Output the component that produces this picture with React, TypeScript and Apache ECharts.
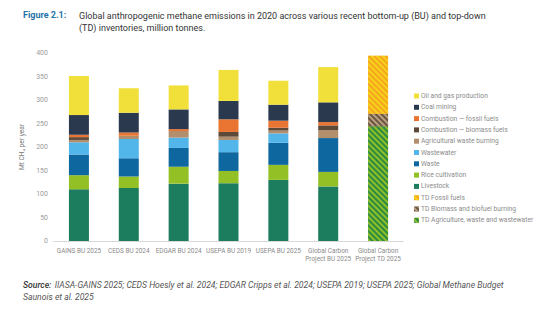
import React, { useEffect, useRef } from "react";
import * as echarts from "echarts";

const categories = [
  "GAINS BU 2025",
  "CEDS BU 2024",
  "EDGAR BU 2024",
  "USEPA BU 2019",
  "USEPA BU 2025",
  "Global Carbon\nProject BU 2025",
  "Global Carbon\nProject TD 2025",
];

const livestock = [110, 113, 122, 123, 130, 116, "-"];
const rice = [30, 24, 36, 26, 32, 31, "-"];
const waste = [44, 39, 40, 40, 47, 72, "-"];
const wastewater = [26, 41, 22, 26, 20, 0, "-"];
const agriWasteBurning = [5, 7, 14, 7, 6, 17, "-"];
const combBiomass = [6, 0, 0, 10, 6, 10, "-"];
const combFossil = [5, 7, 4, 27, 15, 7, "-"];
const coalMining = [42, 42, 42, 39, 34, 42, "-"];
const oilGas = [83, 52, 51, 66, 51, 75, "-"];
const tdAgri = ["-", "-", "-", "-", "-", "-", 244];
const tdBiomass = ["-", "-", "-", "-", "-", "-", 27];
const tdFossil = ["-", "-", "-", "-", "-", "-", 123];

const yTicks = [0, 50, 100, 150, 200, 250, 300, 350, 400];

export default function App() {
  const ref = useRef<HTMLDivElement>(null);
  useEffect(() => {
    document.body.style.margin = "0";
    const chart = echarts.init(ref.current!, null, { renderer: "svg" });
    const font = "Roboto, 'Noto Sans', sans-serif";
    const mk = (name: string, data: any[], color: string, decal?: any) => ({
      name,
      type: "bar",
      stack: "total",
      data,
      barWidth: 20,
      itemStyle: decal ? { color, decal } : { color },
      emphasis: { disabled: true },
    });
    const stripe = (c: string) => ({
      color: c,
      symbol: "rect",
      dashArrayX: [1, 0],
      dashArrayY: [2, 2],
      rotation: Math.PI / 4,
      symbolSize: 1,
    });
    const series = [
      mk("Livestock", livestock, "#1c7c5e"),
      mk("Rice cultivation", rice, "#93c024"),
      mk("Waste", waste, "#0f67a0"),
      mk("Wastewater", wastewater, "#52b6ea"),
      mk("Agricultural waste burning", agriWasteBurning, "#b38e6c"),
      mk("Combustion — biomass fuels", combBiomass, "#5c4938"),
      mk("Combustion — fossil fuels", combFossil, "#ea7431"),
      mk("Coal mining", coalMining, "#2b394f"),
      mk("Oil and gas production", oilGas, "#f1e03a"),
      mk("TD Agriculture, waste and wastewater", tdAgri, "#2e8a3e", stripe("#8cbf2a")),
      mk("TD Biomass and biofuel burning", tdBiomass, "#6b5540", stripe("#b8a080")),
      mk("TD Fossil fuels", tdFossil, "#f5a51e", stripe("#f7d21a")),
    ];
    chart.setOption({
      animation: false,
      textStyle: { fontFamily: font },
      grid: { left: 54, right: 151, top: 53, bottom: 70 },
      legend: {
        orient: "vertical",
        left: 409,
        top: 86,
        icon: "rect",
        itemWidth: 5,
        itemHeight: 5,
        itemGap: 1.3,
        textStyle: { fontSize: 6.7, color: "#8c8c8c", lineHeight: 10, padding: [0, 0, 0, -3] },
        data: [
          "Oil and gas production",
          "Coal mining",
          "Combustion — fossil fuels",
          "Combustion — biomass fuels",
          "Agricultural waste burning",
          "Wastewater",
          "Waste",
          "Rice cultivation",
          "Livestock",
          "TD Fossil fuels",
          "TD Biomass and biofuel burning",
          "TD Agriculture, waste and wastewater",
        ],
      },
      xAxis: {
        type: "category",
        data: categories,
        axisTick: { show: false },
        axisLine: { lineStyle: { color: "#cfcfcf", type: "dotted", width: 1 } },
        axisLabel: { interval: 0, fontSize: 6.4, color: "#8a8a8a", lineHeight: 8, margin: 6 },
      },
      yAxis: {
        type: "value",
        min: 0,
        max: yTicks[yTicks.length - 1],
        interval: 50,
        splitLine: { show: false },
        axisLine: { show: false },
        axisTick: { show: false },
        axisLabel: { fontSize: 7, color: "#9a9a9a", margin: 6 },
        name: "Mt CH₄ per year",
        nameLocation: "middle",
        nameGap: 20,
        nameTextStyle: { fontSize: 6.6, color: "#7a7a7a" },
      },
      graphic: [
        {
          type: "text",
          left: 23,
          top: 10,
          style: { text: "Figure 2.1:", font: `bold 9px ${font}`, fill: "#1f73a8" },
        },
        {
          type: "text",
          left: 79,
          top: 10,
          style: {
            text:
              "Global anthropogenic methane emissions in 2020 across various recent bottom-up (BU) and top-down\n(TD) inventories, million tonnes.",
            font: `9px ${font}`,
            fill: "#333333",
            lineHeight: 12,
          },
        },
        {
          type: "text",
          left: 23,
          top: 279,
          style: {
            text: "{b|Source:} {n|IIASA-GAINS 2025; CEDS Hoesly et al. 2024; EDGAR Cripps et al. 2024; USEPA 2019; USEPA 2025; Global Methane Budget}\n{n|Saunois et al. 2025}",
            rich: {
              b: { font: `italic 500 8.6px ${font}`, fill: "#333333", lineHeight: 12 },
              n: { font: `italic 8.6px ${font}`, fill: "#555555", lineHeight: 12 },
            },
          },
        },
      ],
      series,
    });
    return () => chart.dispose();
  }, []);
  return <div ref={ref} style={{ width: 554, height: 311 }} />;
}
